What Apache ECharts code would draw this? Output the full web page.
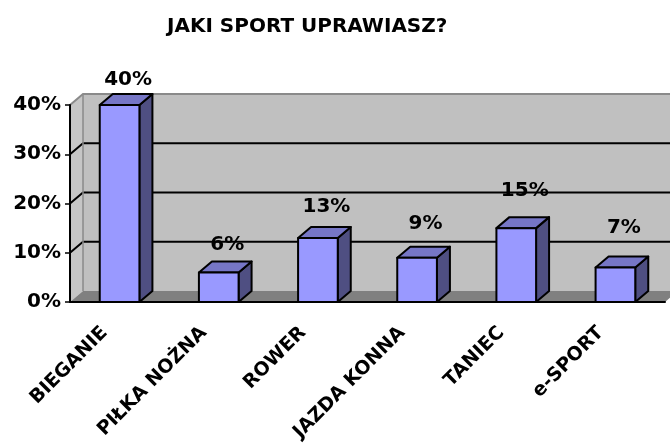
<!DOCTYPE html>
<html>
<head>
<meta charset="utf-8">
<title>Jaki sport uprawiasz?</title>
<script src="https://cdn.jsdelivr.net/npm/echarts@6/dist/echarts.min.js"></script>
<style>
  html, body { margin: 0; padding: 0; background: #fff; }
  #chart { width: 670px; height: 446px; }
</style>
</head>
<body>
<div id="chart"></div>
<script>
const chartTitle = "JAKI SPORT UPRAWIASZ?";
const categories = ["BIEGANIE", "PIŁKA NOŻNA", "ROWER", "JAZDA KONNA", "TANIEC", "e-SPORT"];
const shares = [40, 6, 13, 9, 15, 7];
const yTicks = [0, 10, 20, 30, 40];

// fake 3d depth, in px
const DX = 13;
const DY = 11;
const BAR_RATIO = 0.4;
const FONT = '"DejaVu Sans", sans-serif';

const chart = echarts.init(document.getElementById("chart"));

function renderWalls(params, api) {
  const cs = params.coordSys;
  const x0 = cs.x;
  const x1 = cs.x + cs.width;
  const yBase = api.coord([0, 0])[1];
  const yTop = api.coord([0, yTicks[yTicks.length - 1]])[1];
  const children = [
    {
      type: "polygon",
      shape: { points: [[x0 + DX, yTop - DY], [x1 + DX, yTop - DY], [x1 + DX, yBase - DY], [x0 + DX, yBase - DY]] },
      style: { fill: "#c0c0c0" },
    },
    {
      type: "polygon",
      shape: { points: [[x0, yTop], [x0 + DX, yTop - DY], [x0 + DX, yBase - DY], [x0, yBase]] },
      style: { fill: "#c6c6c6" },
    },
    {
      type: "polygon",
      shape: { points: [[x0, yBase], [x0 + DX, yBase - DY], [x1 + DX, yBase - DY], [x1, yBase]] },
      style: { fill: "#808080" },
    },
  ];
  yTicks.slice(1, -1).forEach((t) => {
    const y = api.coord([0, t])[1];
    children.push({
      type: "polyline",
      shape: { points: [[x0, y], [x0 + DX, y - DY], [x1 + DX, y - DY]] },
      style: { stroke: "#000", lineWidth: 2, fill: null },
    });
  });
  children.push({
    type: "polyline",
    shape: { points: [[x0, yTop], [x0 + DX, yTop - DY], [x1 + DX, yTop - DY]] },
    style: { stroke: "#8a8a8a", lineWidth: 2, fill: null },
  });
  children.push({
    type: "line",
    shape: { x1: x0 + DX, y1: yTop - DY, x2: x0 + DX, y2: yBase - DY },
    style: { stroke: "#8a8a8a", lineWidth: 1.5 },
  });
  return { type: "group", children };
}

function renderBar(params, api) {
  const i = api.value(0);
  const v = api.value(1);
  const top = api.coord([i, v]);
  const cx = top[0];
  const yTop = top[1];
  const yBase = api.coord([i, 0])[1];
  const w = api.size([1, 0])[0] * BAR_RATIO;
  const l = cx - w / 2;
  const r = cx + w / 2;
  const edge = { stroke: "#000", lineWidth: 2, lineJoin: "round" };
  return {
    type: "group",
    children: [
      {
        type: "polygon",
        shape: { points: [[r, yTop], [r + DX, yTop - DY], [r + DX, yBase - DY], [r, yBase]] },
        style: Object.assign({ fill: "#4f4f82" }, edge),
      },
      {
        type: "polygon",
        shape: { points: [[l, yTop], [l + DX, yTop - DY], [r + DX, yTop - DY], [r, yTop]] },
        style: Object.assign({ fill: "#7676c6" }, edge),
      },
      {
        type: "rect",
        shape: { x: l, y: yTop, width: w, height: yBase - yTop },
        style: Object.assign({ fill: "#9999ff" }, edge),
      },
      {
        // excel puts the labels a bit higher going right
        type: "text",
        x: cx + DX / 2 + 2,
        y: yTop - 25 - i * 3,
        style: {
          text: v + "%",
          font: "bold 20px " + FONT,
          fill: "#000",
          align: "center",
          verticalAlign: "middle",
        },
      },
    ],
  };
}

const options = {
  animation: false,
  title: {
    text: chartTitle,
    left: 162,
    top: 12,
    textStyle: { fontFamily: FONT, fontWeight: "bold", fontSize: 20, color: "#000" },
  },
  grid: { left: 70, right: 5, top: 105, bottom: 144, outerBoundsMode: "none" },
  xAxis: {
    type: "category",
    data: categories,
    z: 3,
    axisLine: { lineStyle: { color: "#000", width: 2 } },
    axisTick: { length: 5, lineStyle: { color: "#000", width: 1.5 } },
    axisLabel: {
      interval: 0,
      rotate: 45,
      margin: 13,
      padding: [0, 21, 0, 0],
      color: "#000",
      fontFamily: FONT,
      fontWeight: "bold",
      fontSize: 19,
    },
  },
  yAxis: {
    type: "value",
    min: 0,
    max: 40,
    interval: 10,
    z: 3,
    axisLine: { show: true, lineStyle: { color: "#000", width: 2 } },
    axisTick: { show: true, length: 5, lineStyle: { color: "#000", width: 1.5 } },
    splitLine: { show: false },
    axisLabel: {
      formatter: "{value}%",
      margin: 9,
      color: "#000",
      fontFamily: FONT,
      fontWeight: "bold",
      fontSize: 20,
    },
  },
  series: [
    {
      type: "custom",
      z: 1,
      silent: true,
      renderItem: renderWalls,
      data: [[0, 0]],
      encode: { x: 0, y: 1 },
    },
    {
      type: "custom",
      z: 2,
      renderItem: renderBar,
      data: shares.map((v, i) => [i, v]),
      encode: { x: 0, y: 1 },
    },
  ],
};

chart.setOption(options);
</script>
</body>
</html>
